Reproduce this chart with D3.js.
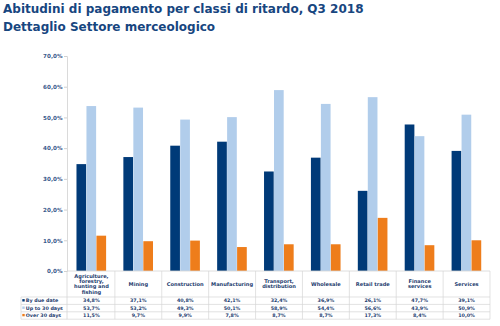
<!DOCTYPE html>
<html><head><meta charset="utf-8">
<script src="https://cdn.jsdelivr.net/npm/d3@7"></script>
<style>body{margin:0;background:#fff}svg{display:block}</style>
</head><body>
<svg id="c" width="500" height="326"></svg>
<script>
const categories = ["Agriculture, forestry, hunting and fishing","Mining","Construction","Manufacturing","Transport, distribution","Wholesale","Retail trade","Finance services","Services"];
const categoryLines = [["Agriculture,","forestry,","hunting and","fishing"],["Mining"],["Construction"],["Manufacturing"],["Transport,","distribution"],["Wholesale"],["Retail trade"],["Finance","services"],["Services"]];
const seriesNames = ["By due date","Up to 30 days","Over 30 days"];
const byDueDate = [34.8,37.1,40.8,42.1,32.4,36.9,26.1,47.7,39.1];
const upTo30 = [53.7,53.2,49.3,50.1,58.9,54.4,56.6,43.9,50.9];
const over30 = [11.5,9.7,9.9,7.8,8.7,8.7,17.3,8.4,10.0];
const yTicks = [0,10,20,30,40,50,60,70];
const colors = ["#003A78","#B1CDEB","#EE7D1B"];
const title1 = "Abitudini di pagamento per classi di ritardo, Q3 2018";
const title2 = "Dettaglio Settore merceologico";

const series = [byDueDate, upTo30, over30];
const svg = d3.select("#c");
const font = "DejaVu Sans, Verdana, sans-serif";
const navy = "#1C3B6E";

svg.append("text").attr("x",3).attr("y",12.5).attr("font-family",font).attr("font-weight","bold")
  .attr("font-size",12).attr("fill","#17467F").text(title1);
svg.append("text").attr("x",3).attr("y",30.5).attr("font-family",font).attr("font-weight","bold")
  .attr("font-size",12).attr("fill","#17467F").text(title2);

const x = d3.scaleBand().domain(categories).range([68,490]);
const x1 = d3.scaleBand().domain(seriesNames).range([0,x.bandwidth()]).paddingInner(0).paddingOuter(0.85);
const y = d3.scaleLinear().domain([0,70]).range([271,56]);
const loc = d3.formatLocale({decimal:",",thousands:".",grouping:[3],currency:["","€"]});
const fmt = loc.format(".1f");

// y axis
const yAxis = d3.axisLeft(y).tickValues(yTicks).tickSize(3).tickPadding(1.5).tickFormat(d=>fmt(d)+"%");
const ga = svg.append("g").attr("transform","translate(67,0)").call(yAxis);
ga.select(".domain").attr("stroke","#d0d0d0").attr("stroke-width",0.8);
ga.selectAll(".tick line").attr("stroke","#d0d0d0");
ga.selectAll("text").attr("font-family",font).attr("font-weight","bold").attr("font-size",5.6).attr("fill","#3A5A8C");

// bars
const g = svg.append("g");
categories.forEach((c,i)=>{
  series.forEach((s,j)=>{
    g.append("rect").attr("x",x(c)+x1(seriesNames[j])).attr("width",x1.bandwidth()-0.3)
     .attr("y",y(s[i])).attr("height",y(0)-y(s[i])).attr("fill",colors[j]);
  });
});

// table
const tTop = 271, hBot = 297, rowH = 7.4;
const tBot = hBot + rowH*3;
const lineC = "#d6d6d6";
const tg = svg.append("g");
[hBot, hBot+rowH, hBot+rowH*2, tBot].forEach(yy=>{
  tg.append("line").attr("x1",21).attr("x2",490).attr("y1",yy).attr("y2",yy).attr("stroke",lineC).attr("stroke-width",0.7);
});
tg.append("line").attr("x1",67).attr("x2",490).attr("y1",tTop).attr("y2",tTop).attr("stroke",lineC).attr("stroke-width",0.8);
categories.forEach((c,i)=>{
  tg.append("line").attr("x1",x(c)+x.bandwidth()).attr("x2",x(c)+x.bandwidth()).attr("y1",tTop).attr("y2",tBot).attr("stroke",lineC).attr("stroke-width",0.7);
});
tg.append("line").attr("x1",67).attr("x2",67).attr("y1",tTop).attr("y2",tBot).attr("stroke",lineC).attr("stroke-width",0.8);
tg.append("line").attr("x1",21).attr("x2",21).attr("y1",hBot).attr("y2",tBot).attr("stroke",lineC).attr("stroke-width",0.7);

// headers
categories.forEach((c,i)=>{
  const lines = categoryLines[i];
  const lh = 5.2;
  const cy = (tTop+hBot)/2;
  const y0 = cy - (lines.length-1)*lh/2 + 1.8;
  const t = tg.append("text").attr("font-family",font).attr("font-weight","bold").attr("font-size",5.1)
    .attr("fill",navy).attr("text-anchor","middle");
  lines.forEach((l,k)=>{
    t.append("tspan").attr("x",x(c)+x.bandwidth()/2).attr("y",y0+k*lh).text(l);
  });
});
// rows
series.forEach((s,j)=>{
  const yy = hBot + rowH*j + rowH/2 + 1.7;
  tg.append("rect").attr("x",22.3).attr("y",yy-3.3).attr("width",2.4).attr("height",2.4).attr("fill",colors[j]);
  tg.append("text").attr("x",25.8).attr("y",yy).attr("font-family",font).attr("font-weight","bold").attr("font-size",4.8)
    .attr("fill",navy).text(seriesNames[j]);
  categories.forEach((c,i)=>{
    tg.append("text").attr("x",x(c)+x.bandwidth()/2).attr("y",yy).attr("text-anchor","middle")
      .attr("font-family",font).attr("font-weight","bold").attr("font-size",4.8).attr("fill",navy)
      .text(fmt(s[i])+"%");
  });
});
</script>
</body></html>
